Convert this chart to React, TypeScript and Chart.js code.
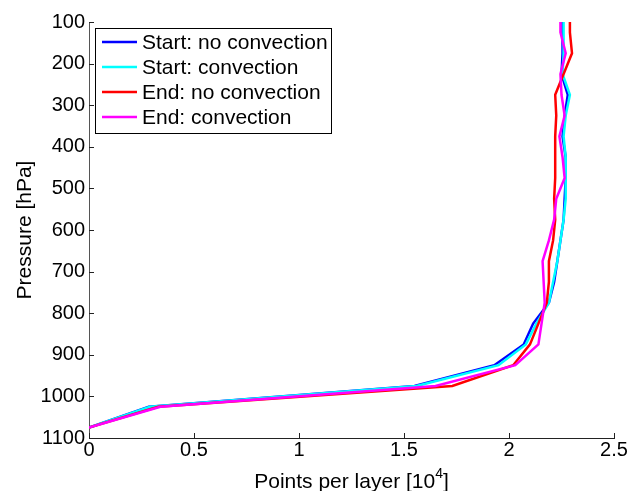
import React, { useEffect, useRef } from "react";
import { Chart, registerables } from "chart.js";

Chart.register(...registerables);

const PRESSURE = [1075, 1025, 975, 925, 875, 825, 775, 725, 675, 625, 575, 525, 475, 425, 375, 325, 275, 225, 175, 125, 75];
const START_NO_CONV = [0, 0.285, 1.55, 1.93, 2.07, 2.115, 2.19, 2.215, 2.23, 2.245, 2.26, 2.265, 2.27, 2.27, 2.255, 2.265, 2.28, 2.25, 2.255, 2.255, 2.255];
const START_CONV = [0, 0.29, 1.56, 1.95, 2.08, 2.13, 2.19, 2.21, 2.23, 2.245, 2.26, 2.27, 2.27, 2.27, 2.26, 2.27, 2.29, 2.255, 2.26, 2.26, 2.26];
const END_NO_CONV = [0, 0.33, 1.73, 2.02, 2.10, 2.14, 2.18, 2.19, 2.19, 2.21, 2.22, 2.215, 2.22, 2.22, 2.22, 2.225, 2.22, 2.26, 2.30, 2.29, 2.29];
const END_CONV = [0, 0.34, 1.65, 2.03, 2.14, 2.155, 2.17, 2.165, 2.16, 2.19, 2.215, 2.225, 2.265, 2.255, 2.24, 2.265, 2.25, 2.245, 2.27, 2.245, 2.245];

const SERIES_LABELS = ["Start: no convection", "Start: convection", "End: no convection", "End: convection"];
const SERIES_COLORS = ["#0000ff", "#00ffff", "#ff0000", "#ff00ff"];
const SERIES_VALUES = [START_NO_CONV, START_CONV, END_NO_CONV, END_CONV];

const X_TICKS = [0, 0.5, 1, 1.5, 2, 2.5];
const Y_TICKS = [100, 200, 300, 400, 500, 600, 700, 800, 900, 1000, 1100];

const FONT = "'Liberation Sans', Arial, Helvetica, sans-serif";

const decorPlugin = {
  id: "decor",
  afterDraw(chart: any) {
    const { ctx, chartArea, scales } = chart;
    const xs = scales.x;
    const ys = scales.y;
    ctx.save();
    // inward ticks
    ctx.strokeStyle = "#222";
    ctx.lineWidth = 1;
    ctx.beginPath();
    X_TICKS.forEach((v) => {
      const px = Math.round(xs.getPixelForValue(v)) + 0.5;
      ctx.moveTo(px, chartArea.bottom);
      ctx.lineTo(px, chartArea.bottom - 5);
    });
    Y_TICKS.forEach((v) => {
      const py = Math.round(ys.getPixelForValue(v)) + 0.5;
      ctx.moveTo(chartArea.left, py);
      ctx.lineTo(chartArea.left + 5, py);
    });
    ctx.stroke();

    // x title with superscript
    ctx.fillStyle = "#000";
    ctx.textBaseline = "alphabetic";
    ctx.font = `21px ${FONT}`;
    const main = "Points per layer [10";
    const sup = "4";
    const close = "]";
    const wMain = ctx.measureText(main).width;
    ctx.font = `14px ${FONT}`;
    const wSup = ctx.measureText(sup).width;
    ctx.font = `21px ${FONT}`;
    const wClose = ctx.measureText(close).width;
    const total = wMain + wSup + wClose;
    const cx = (chartArea.left + chartArea.right) / 2;
    const baseY = 488;
    let x0 = cx - total / 2;
    ctx.textAlign = "left";
    ctx.fillText(main, x0, baseY);
    ctx.font = `14px ${FONT}`;
    ctx.fillText(sup, x0 + wMain, baseY - 10);
    ctx.font = `21px ${FONT}`;
    ctx.fillText(close, x0 + wMain + wSup, baseY);

    // legend
    const bx = 95, by = 28, bw = 236, bh = 105;
    ctx.fillStyle = "#fff";
    ctx.fillRect(bx, by, bw, bh);
    ctx.strokeStyle = "#000";
    ctx.lineWidth = 1;
    ctx.strokeRect(bx + 0.5, by + 0.5, bw, bh);
    ctx.font = `21px ${FONT}`;
    ctx.textBaseline = "middle";
    ctx.textAlign = "left";
    SERIES_LABELS.forEach((lab, i) => {
      const y = 42 + i * 25;
      ctx.strokeStyle = SERIES_COLORS[i];
      ctx.lineWidth = 2.5;
      ctx.beginPath();
      ctx.moveTo(102, y);
      ctx.lineTo(137, y);
      ctx.stroke();
      ctx.fillStyle = "#000";
      ctx.fillText(lab, 142, y + 1);
    });
    ctx.restore();
  },
};

export default function App() {
  const ref = useRef<HTMLCanvasElement | null>(null);
  useEffect(() => {
    if (!ref.current) return;
    const order = [4, 3, 2, 1];
    const chart = new Chart(ref.current, {
      type: "scatter",
      data: {
        datasets: SERIES_VALUES.map((vals, i) => ({
          label: SERIES_LABELS[i],
          data: vals.map((v, j) => ({ x: v, y: PRESSURE[j] })),
          showLine: true,
          borderColor: SERIES_COLORS[i],
          backgroundColor: SERIES_COLORS[i],
          borderWidth: 2.5,
          pointRadius: 0,
          pointHoverRadius: 0,
          tension: 0,
          clip: 0,
          order: order[i],
        })),
      },
      options: {
        responsive: false,
        animation: false,
        events: [],
        layout: { padding: { left: 0, top: 22, right: 17, bottom: 0 } },
        plugins: { legend: { display: false }, tooltip: { enabled: false }, title: { display: false } },
        scales: {
          x: {
            type: "linear",
            min: 0,
            max: 2.5,
            afterFit: (s: any) => { s.height = 53; },
            afterBuildTicks: (s: any) => { s.ticks = X_TICKS.map((v) => ({ value: v })); },
            grid: { display: false, drawTicks: false },
            border: { display: true, color: "#222", width: 1 },
            ticks: { color: "#000", padding: 0, maxRotation: 0, font: { family: FONT, size: 20 }, callback: (v: any) => String(v) },
            title: { display: false },
          },
          y: {
            type: "linear",
            reverse: true,
            min: 100,
            max: 1100,
            afterFit: (s: any) => { s.width = 89; },
            afterBuildTicks: (s: any) => { s.ticks = Y_TICKS.map((v) => ({ value: v })); },
            grid: { display: false, drawTicks: false },
            border: { display: true, color: "#555", width: 1 },
            ticks: { color: "#000", padding: 4, font: { family: FONT, size: 20 }, callback: (v: any) => String(v) },
            title: {
              display: true,
              text: "Pressure [hPa]",
              color: "#000",
              padding: { top: 13, bottom: 0 },
              font: { family: FONT, size: 21 },
            },
          },
        },
      },
      plugins: [decorPlugin],
    });
    return () => chart.destroy();
  }, []);
  return (
    <div style={{ position: "fixed", left: 0, top: 0, width: 631, height: 491, background: "#fff" }}>
      <canvas ref={ref} width={631} height={491} style={{ display: "block" }} />
    </div>
  );
}
